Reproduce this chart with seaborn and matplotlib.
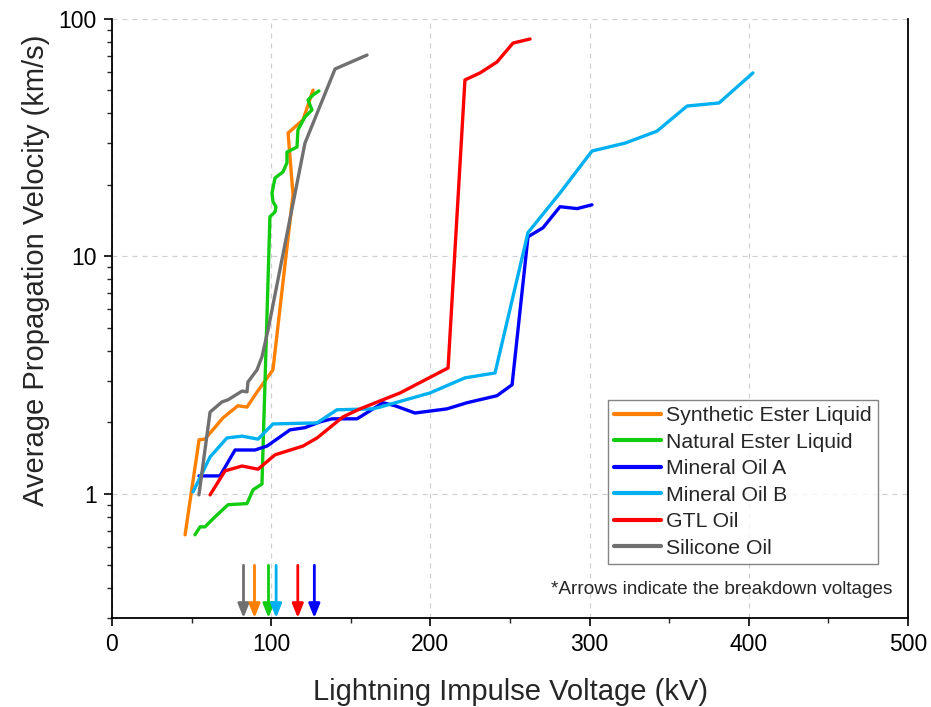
import numpy as np
import pandas as pd
import matplotlib
matplotlib.use("Agg")
import matplotlib.pyplot as plt
import seaborn as sns
from matplotlib.ticker import LogLocator, NullFormatter, FixedLocator, MultipleLocator

# ---------------- data ----------------
syn_x = [45.9, 54.7, 58.4, 69.7, 79.1, 84.8, 91.2, 101.1, 113.7, 110.6, 120.0, 126.3]
syn_y = [0.672, 1.69, 1.70, 2.09, 2.35, 2.32, 2.69, 3.33, 18.2, 33.1, 37.6, 50.2]

nat_x = [52.1, 55.3, 58.4, 64.7, 72.9, 84.8, 88.6, 94.2, 99.2, 102.4, 103.0, 101.1, 100.5,
         102.4, 107.4, 109.9, 109.9, 116.2, 116.8, 121.2, 125.6, 123.1, 126.3, 130.0]
nat_y = [0.672, 0.726, 0.726, 0.80, 0.90, 0.91, 1.04, 1.10, 14.7, 15.4, 16.2, 17.0, 18.5,
         21.4, 22.7, 24.8, 27.5, 28.9, 34.1, 38.7, 41.4, 45.6, 47.9, 49.8]

mina_x = [54.6, 67.8, 77.3, 89.8, 97.4, 111.8, 121.2, 130.7, 138.2, 153.9, 170.2, 177.8,
          190.3, 210.4, 223.0, 241.8, 251.3, 261.3, 270.7, 281.4, 292.1, 301.5]
mina_y = [1.19, 1.19, 1.53, 1.53, 1.59, 1.86, 1.90, 2.01, 2.07, 2.07, 2.42, 2.35,
          2.19, 2.28, 2.42, 2.59, 2.88, 12.1, 13.2, 16.2, 15.9, 16.5]

minb_x = [50.9, 61.6, 72.2, 81.7, 91.7, 101.1, 128.8, 141.3, 163.9, 168.3, 199.7, 221.7,
          240.6, 261.3, 281.4, 301.5, 322.2, 342.3, 361.2, 381.3, 402.6]
minb_y = [1.02, 1.43, 1.72, 1.75, 1.70, 1.97, 1.99, 2.26, 2.28, 2.32, 2.66, 3.08,
          3.23, 12.6, 18.5, 27.8, 30.0, 33.7, 43.0, 44.3, 59.3]

gtl_x = [61.6, 71.0, 81.7, 91.7, 102.4, 120.0, 128.8, 145.1, 155.8, 180.9, 211.1, 221.7,
         231.2, 241.8, 251.9, 262.6]
gtl_y = [0.99, 1.25, 1.31, 1.27, 1.46, 1.59, 1.72, 2.11, 2.28, 2.66, 3.39, 55.4,
         59.3, 65.9, 79.2, 82.4]

sil_x = [54.6, 61.6, 69.1, 72.9, 81.7, 84.8, 85.4, 91.1, 94.2, 98.0, 121.2, 140.1, 160.2]
sil_y = [0.99, 2.21, 2.44, 2.49, 2.71, 2.69, 2.96, 3.33, 3.78, 4.9, 30.0, 61.6, 70.5]

names = ["Synthetic Ester Liquid", "Natural Ester Liquid", "Mineral Oil A",
         "Mineral Oil B", "GTL Oil", "Silicone Oil"]
colors = ["#FF8000", "#11CC11", "#0000FF", "#00B0F0", "#FF0000", "#707070"]

# breakdown voltages (arrows)
bd_names = ["Silicone Oil", "Synthetic Ester Liquid", "Natural Ester Liquid",
            "Mineral Oil B", "GTL Oil", "Mineral Oil A"]
bd_kv = [82.6, 89.5, 98.3, 103.1, 116.7, 127.1]

x_ticks = [0, 100, 200, 300, 400, 500]
y_ticks = [1, 10, 100]
y_ticklabels = ["1", "10", "100"]

# ---------------- build frame ----------------
series = [(syn_x, syn_y), (nat_x, nat_y), (mina_x, mina_y),
          (minb_x, minb_y), (gtl_x, gtl_y), (sil_x, sil_y)]
frames = []
for n, (xs, ys) in zip(names, series):
    frames.append(pd.DataFrame({"V": xs, "vel": ys, "liquid": n}))
df = pd.concat(frames, ignore_index=True)

sns.set_theme(style="white")
plt.rcParams["font.family"] = ["Liberation Sans", "DejaVu Sans"]

fig = plt.figure(figsize=(9.31, 7.07), dpi=100)
ax = fig.add_axes([0.1203, 0.1259, 0.8550, 0.8472])

palette = dict(zip(names, colors))
sns.lineplot(data=df, x="V", y="vel", hue="liquid", hue_order=names, palette=palette,
             sort=False, estimator=None, linewidth=2.4, ax=ax, legend=True)

ax.set_yscale("log")
ax.set_xlim(0, 500)
ax.set_ylim(0.3, 100)

ax.xaxis.set_major_locator(FixedLocator(x_ticks))
ax.xaxis.set_minor_locator(MultipleLocator(50))
ax.yaxis.set_major_locator(FixedLocator(y_ticks))
ax.set_yticklabels(y_ticklabels)
ax.yaxis.set_minor_locator(LogLocator(base=10, subs=np.arange(2, 10)))
ax.yaxis.set_minor_formatter(NullFormatter())

ax.tick_params(axis="both", which="major", direction="out", length=6, width=1.2,
               labelsize=16.5, colors="black", left=True, bottom=True, pad=5)
ax.tick_params(axis="both", which="minor", direction="out", length=3.5, width=1.0,
               left=True, bottom=True)

ax.grid(True, which="major", linestyle=(0, (4, 4)), color="#D0D0D0", linewidth=0.9)

for side in ["left", "bottom", "right"]:
    ax.spines[side].set_visible(True)
    ax.spines[side].set_color("black")
    ax.spines[side].set_linewidth(1.3)
ax.spines["top"].set_visible(False)

ax.set_xlabel("Lightning Impulse Voltage (kV)", fontsize=21, labelpad=16)
ax.set_ylabel("Average Propagation Velocity (km/s)", fontsize=21)
ax.yaxis.set_label_coords(-0.078, 0.58)

# arrows for breakdown voltages
for n, kv in zip(bd_names, bd_kv):
    ax.annotate("", xy=(kv, 0.3), xytext=(kv, 0.50),
                arrowprops=dict(arrowstyle="-|>,head_length=0.7,head_width=0.28",
                                color=palette[n], lw=2.0, shrinkA=0, shrinkB=0),
                annotation_clip=False)

ax.text(0.98, 0.047, "*Arrows indicate the breakdown voltages", transform=ax.transAxes,
        ha="right", va="center", fontsize=13.7)

leg = ax.legend(loc="upper left", bbox_to_anchor=(0.623, 0.364), borderaxespad=0,
                fontsize=15.3, frameon=True, fancybox=False, handlelength=2.2,
                handletextpad=0.25, labelspacing=0.35, borderpad=0.3)
leg.get_frame().set_edgecolor("#666666")
leg.get_frame().set_linewidth(1.0)
for h in leg.get_lines():
    h.set_linewidth(3.0)

fig.savefig("out.png", dpi=100)
